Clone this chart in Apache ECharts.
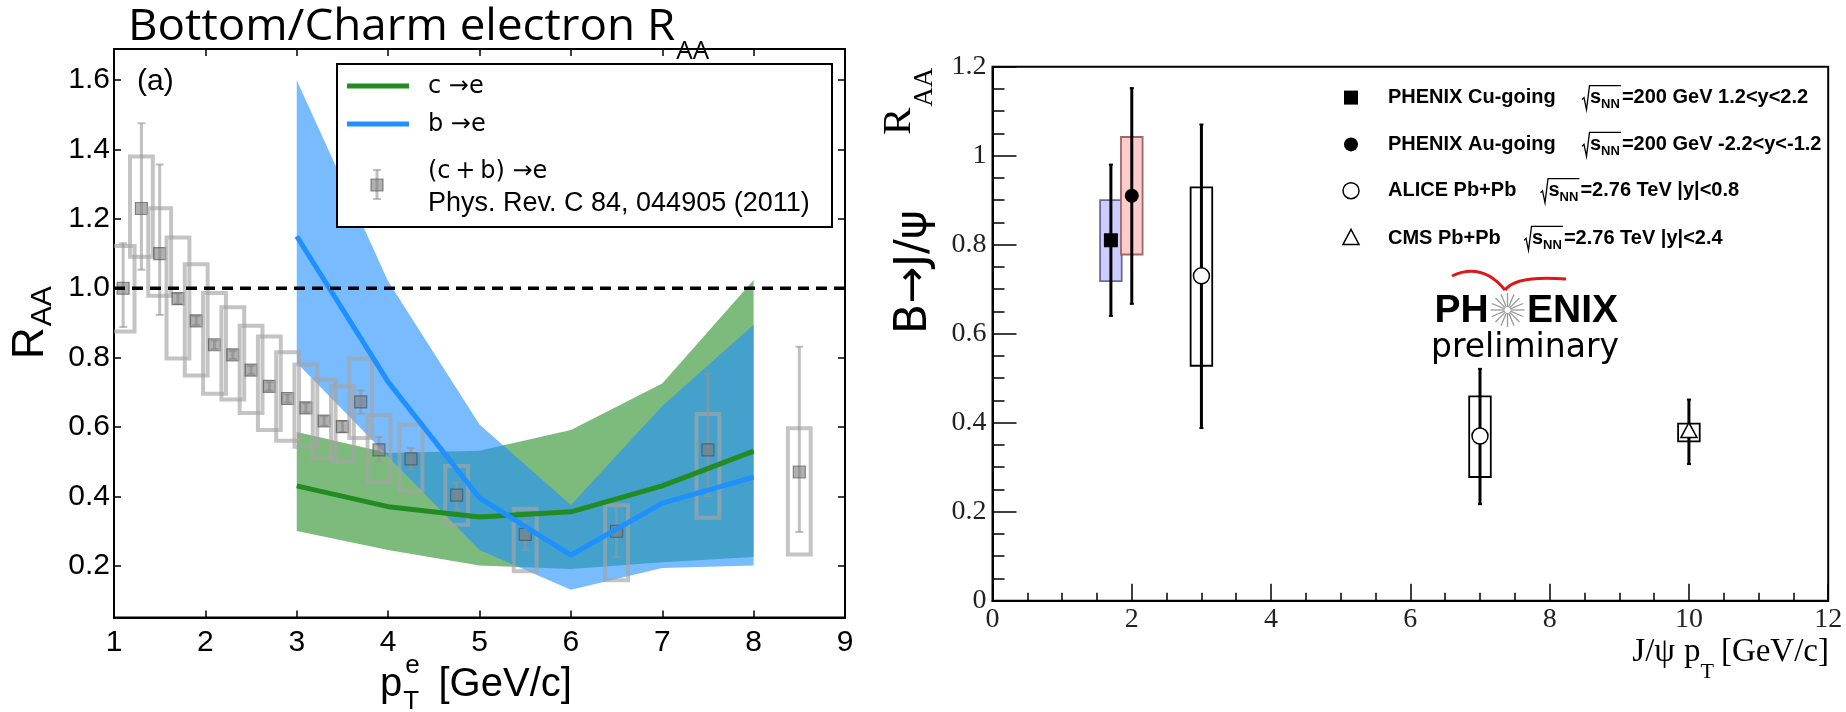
<!DOCTYPE html>
<html><head><meta charset="utf-8">
<script src="https://cdn.jsdelivr.net/npm/echarts@6/dist/echarts.min.js"></script>
<style>html,body{margin:0;padding:0;background:#fff}#c{width:1846px;height:712px}</style>
</head><body><div id="c"></div>
<script>
// ================= LEFT PANEL DATA =================
const leftXTicks = [1, 2, 3, 4, 5, 6, 7, 8, 9];
const leftYTicks = [0.2, 0.4, 0.6, 0.8, 1.0, 1.2, 1.4, 1.6];
const unityLevel = 1.0;
// model curves (pT grid)
const modelPt   = [3, 4, 5, 6, 7, 8];
const charmMid  = [0.43, 0.37, 0.34, 0.355, 0.43, 0.53];
const charmLo   = [0.30, 0.245, 0.20, 0.19, 0.21, 0.225];
const charmHi   = [0.585, 0.525, 0.531, 0.591, 0.725, 1.024];
const bottomMid = [1.15, 0.73, 0.395, 0.23, 0.38, 0.455];
const bottomLo  = [0.785, 0.515, 0.245, 0.13, 0.193, 0.20];
const bottomHi  = [1.60, 1.02, 0.607, 0.375, 0.66, 0.895];
// (c+b)->e data, Phys. Rev. C 84, 044905
const hfPt     = [1.1, 1.3, 1.5, 1.7, 1.9, 2.1, 2.3, 2.5, 2.7, 2.9, 3.1, 3.3, 3.5, 3.7, 3.9, 4.25, 4.75, 5.5, 6.5, 7.5, 8.5];
const hfVal    = [1.00, 1.23, 1.10, 0.97, 0.906, 0.837, 0.808, 0.764, 0.717, 0.682, 0.655, 0.617, 0.601, 0.672, 0.534, 0.508, 0.403, 0.290, 0.299, 0.534, 0.470];
const hfStatLo = [0.888, 1.053, 0.923, 0.955, 0.893, 0.825, 0.796, 0.752, 0.705, 0.670, 0.642, 0.603, 0.585, 0.638, 0.499, 0.477, 0.362, 0.245, 0.225, 0.400, 0.297];
const hfStatHi = [1.130, 1.476, 1.357, 0.985, 0.919, 0.849, 0.820, 0.776, 0.729, 0.694, 0.668, 0.631, 0.617, 0.705, 0.571, 0.539, 0.440, 0.328, 0.380, 0.754, 0.831];
const hfSysLo  = [0.875, 1.091, 0.978, 0.797, 0.748, 0.696, 0.679, 0.640, 0.591, 0.560, 0.543, 0.510, 0.499, 0.568, 0.441, 0.416, 0.318, 0.184, 0.158, 0.338, 0.232];
const hfSysHi  = [1.122, 1.380, 1.231, 1.146, 1.069, 0.986, 0.945, 0.892, 0.861, 0.815, 0.780, 0.736, 0.717, 0.797, 0.634, 0.607, 0.487, 0.364, 0.374, 0.637, 0.596];

// ================= RIGHT PANEL DATA =================
const rightXTicks = [0, 2, 4, 6, 8, 10, 12];
const rightYTicks = [0, 0.2, 0.4, 0.6, 0.8, 1, 1.2];
const jpsiNames  = ['PHENIX Cu-going', 'PHENIX Au-going', 'ALICE Pb+Pb', 'CMS Pb+Pb'];
const jpsiEnergy = ['=200 GeV 1.2<y<2.2', '=200 GeV -2.2<y<-1.2', '=2.76 TeV |y|<0.8', '=2.76 TeV |y|<2.4'];
const jpsiPt     = [1.7, 2.0, 3.0, 7.0, 10.0];
const jpsiVal    = [0.81, 0.91, 0.73, 0.37, 0.38];
const jpsiStatLo = [0.64, 0.667, 0.388, 0.217, 0.307];
const jpsiStatHi = [0.98, 1.152, 1.07, 0.521, 0.452];
const jpsiSysLo  = [0.718, 0.778, 0.528, 0.278, 0.358];
const jpsiSysHi  = [0.90, 1.042, 0.929, 0.459, 0.398];

// ---------- styles (not data) ----------
const jpsiMarker = ['square', 'circle', 'openCircle', 'openCircle', 'openTriangle'];
const jpsiBoxFill = ['rgba(204,204,255,1)', 'rgba(255,204,204,1)', 'none', 'none', 'none'];
const jpsiBoxStroke = ['#6a6a9a', '#9a6a6a', '#000', '#000', '#000'];

const ctx = document.createElement('canvas').getContext('2d');
function tw(text, font) { ctx.font = font; return ctx.measureText(text).width; }
const SANS = '"Liberation Sans", Arial, sans-serif';
const SERIF = '"Liberation Serif", "Times New Roman", serif';

function T(text, x, y, font, extra) {
  return Object.assign({ type: 'text', x: x, y: y, z: 100,
    style: { text: text, font: font, fill: '#000', align: 'left', verticalAlign: 'middle' } }, extra || {});
}

function bandSeries(xs, lo, hi, color, z) {
  return {
    type: 'custom', xAxisIndex: 0, yAxisIndex: 0, z: z, silent: true, clip: true,
    data: [[xs[0], lo[0]]],
    renderItem: function (params, api) {
      const pts = [];
      for (let i = 0; i < xs.length; i++) pts.push(api.coord([xs[i], hi[i]]));
      for (let i = xs.length - 1; i >= 0; i--) pts.push(api.coord([xs[i], lo[i]]));
      return { type: 'polygon', shape: { points: pts }, style: { fill: color } };
    }
  };
}

const hfData = hfPt.map((x, i) => [x, hfVal[i], hfStatLo[i], hfStatHi[i], hfSysLo[i], hfSysHi[i]]);
const jpsiData = jpsiPt.map((x, i) => [x, jpsiVal[i], jpsiStatLo[i], jpsiStatHi[i], jpsiSysLo[i], jpsiSysHi[i]]);

function hfRender(params, api) {
  const x = api.value(0), v = api.value(1);
  const hw = 0.125;
  const p0 = api.coord([x - hw, api.value(5)]), p1 = api.coord([x + hw, api.value(4)]);
  const c = api.coord([x, v]), a = api.coord([x, api.value(3)]), b = api.coord([x, api.value(2)]);
  const gc = 'rgba(150,150,150,0.6)';
  return { type: 'group', children: [
    { type: 'rect', shape: { x: p0[0], y: p0[1], width: p1[0] - p0[0], height: p1[1] - p0[1] },
      style: { fill: 'none', stroke: 'rgba(165,165,165,0.65)', lineWidth: 4 } },
    { type: 'line', shape: { x1: a[0], y1: a[1], x2: b[0], y2: b[1] }, style: { stroke: gc, lineWidth: 3 } },
    { type: 'line', shape: { x1: a[0] - 4, y1: a[1], x2: a[0] + 4, y2: a[1] }, style: { stroke: gc, lineWidth: 2 } },
    { type: 'line', shape: { x1: b[0] - 4, y1: b[1], x2: b[0] + 4, y2: b[1] }, style: { stroke: gc, lineWidth: 2 } },
    { type: 'rect', shape: { x: c[0] - 6, y: c[1] - 6, width: 12, height: 12 },
      style: { fill: 'rgba(125,125,125,0.6)', stroke: 'rgba(70,70,70,0.6)', lineWidth: 1.2 } }
  ] };
}

function markerShape(kind, cx, cy) {
  if (kind === 'square') return { type: 'rect', shape: { x: cx - 7, y: cy - 7, width: 14, height: 14 }, style: { fill: '#000' } };
  if (kind === 'circle') return { type: 'circle', shape: { cx: cx, cy: cy, r: 7 }, style: { fill: '#000' } };
  if (kind === 'openCircle') return { type: 'circle', shape: { cx: cx, cy: cy, r: 8 }, style: { fill: '#fff', stroke: '#000', lineWidth: 1.5 } };
  return { type: 'polygon', shape: { points: [[cx, cy - 9], [cx + 8, cy + 6], [cx - 8, cy + 6]] }, style: { fill: '#fff', stroke: '#000', lineWidth: 1.5 } };
}

function jpsiRender(params, api) {
  const i = params.dataIndex;
  const x = api.value(0), v = api.value(1);
  const hw = 0.155;
  const p0 = api.coord([x - hw, api.value(5)]), p1 = api.coord([x + hw, api.value(4)]);
  const c = api.coord([x, v]), a = api.coord([x, api.value(3)]), b = api.coord([x, api.value(2)]);
  return { type: 'group', children: [
    { type: 'rect', shape: { x: p0[0], y: p0[1], width: p1[0] - p0[0], height: p1[1] - p0[1] },
      style: { fill: jpsiBoxFill[i], stroke: jpsiBoxStroke[i], lineWidth: 1.8 } },
    { type: 'line', shape: { x1: a[0], y1: a[1], x2: b[0], y2: b[1] }, style: { stroke: '#000', lineWidth: 3 } },
    { type: 'line', shape: { x1: a[0] - 2, y1: a[1], x2: a[0] + 2, y2: a[1] }, style: { stroke: '#000', lineWidth: 2 } },
    { type: 'line', shape: { x1: b[0] - 2, y1: b[1], x2: b[0] + 2, y2: b[1] }, style: { stroke: '#000', lineWidth: 2 } },
    markerShape(jpsiMarker[i], c[0], c[1])
  ] };
}

// ---------------- graphics (titles, legends, labels) ----------------
const G = [];
// left title
const titleFont = '44px "Open Sans", sans-serif';
const titleMain = 'Bottom/Charm electron R';
const titleScale = 1.04;
G.push(T(titleMain, 128, 27, titleFont, { scaleX: titleScale }));
G.push(T('AA', 128 + tw(titleMain, titleFont) * titleScale + 1, 52, '26px "Open Sans", sans-serif'));
// (a)
G.push(T('(a)', 137, 82, '30px ' + SANS));
// left y label R_AA (rotated)
{
  const f1 = '44px ' + SANS, f2 = '30px ' + SANS;
  G.push({ type: 'group', x: 31, y: 359, rotation: Math.PI / 2, z: 100, children: [
    { type: 'text', x: 0, y: 0, style: { text: 'R', font: f1, fill: '#000', verticalAlign: 'middle' } },
    { type: 'text', x: tw('R', f1) + 1, y: 12, style: { text: 'AA', font: f2, fill: '#000', verticalAlign: 'middle' } }
  ] });
}
// left x label
{
  const f1 = '40px ' + SANS, f2 = '26px ' + SANS;
  const px = 380, cy = 685;
  const wp = tw('p', f1);
  G.push(T('p', px, cy, f1));
  G.push(T('e', px + wp + 3, cy - 19, f2));
  G.push(T('T', px + wp + 1, cy + 17, f2));
  G.push(T('[GeV/c]', 438.5, cy, f1));
}
// left legend
G.push({ type: 'rect', z: 99, shape: { x: 337, y: 64, width: 495, height: 163 }, style: { fill: '#fff', stroke: '#000', lineWidth: 2 } });
G.push({ type: 'line', z: 100, shape: { x1: 347, y1: 86, x2: 409, y2: 86 }, style: { stroke: '#228B22', lineWidth: 5 } });
G.push({ type: 'line', z: 100, shape: { x1: 347, y1: 124, x2: 409, y2: 124 }, style: { stroke: '#1E90FF', lineWidth: 5 } });
G.push(T('c \u2192e', 428, 87, '24px "DejaVu Sans", sans-serif'));
G.push(T('b \u2192e', 428, 125, '24px "DejaVu Sans", sans-serif'));
G.push({ type: 'line', z: 100, shape: { x1: 377, y1: 170, x2: 377, y2: 199 }, style: { stroke: 'rgba(150,150,150,0.6)', lineWidth: 3 } });
G.push({ type: 'line', z: 100, shape: { x1: 373, y1: 170, x2: 381, y2: 170 }, style: { stroke: 'rgba(150,150,150,0.6)', lineWidth: 2 } });
G.push({ type: 'line', z: 100, shape: { x1: 373, y1: 199, x2: 381, y2: 199 }, style: { stroke: 'rgba(150,150,150,0.6)', lineWidth: 2 } });
G.push({ type: 'rect', z: 101, shape: { x: 371, y: 179, width: 12, height: 12 }, style: { fill: 'rgba(125,125,125,0.6)', stroke: 'rgba(70,70,70,0.6)', lineWidth: 1.2 } });
G.push(T('(c\u2009+\u2009b) \u2192e', 428, 172, '24px "DejaVu Sans", sans-serif'));
G.push(T('Phys. Rev. C 84, 044905 (2011)', 428, 204, '27px ' + SANS));

// right y label
{
  const fb = '44px "DejaVu Sans", sans-serif';
  G.push({ type: 'group', x: 915, y: 334, rotation: Math.PI / 2, z: 100, children: [
    { type: 'text', x: 0, y: 0, style: { text: 'B\u2192J/\u03c8', font: fb, fill: '#000', verticalAlign: 'middle' } }
  ] });
  const fr = '41px ' + SERIF, fs = '27px ' + SERIF;
  G.push({ type: 'group', x: 899, y: 135, rotation: Math.PI / 2, z: 100, children: [
    { type: 'text', x: 0, y: 0, style: { text: 'R', font: fr, fill: '#000', verticalAlign: 'middle' } },
    { type: 'text', x: tw('R', fr) + 1, y: 26, style: { text: 'AA', font: fs, fill: '#000', verticalAlign: 'middle' } }
  ] });
}
// right x label (composed right-to-left, right edge at the frame)
{
  const f1 = '33px ' + SERIF, f2 = '22px ' + SERIF;
  const xEnd = 1829, cy = 652;
  const xG = xEnd - tw('[GeV/c]', f1);
  const xT = xG - 7 - tw('T', f2);
  const xP = xT - tw('p', f1);
  const xJ = xP - 9 - tw('J/\u03c8', f1);
  G.push(T('[GeV/c]', xG, cy, f1));
  G.push(T('T', xT, cy + 20, f2));
  G.push(T('p', xP, cy, f1));
  G.push(T('J/\u03c8', xJ, cy, f1));
}
// right legend
{
  const ys = [97.6, 144.4, 190.7, 238.4];
  const rx = [1582, 1582, 1540.5, 1524];
  const kinds = ['square', 'circle', 'openCircle', 'openTriangle'];
  const fB = 'bold 20px ' + SANS, fSub = 'bold 13px ' + SANS;
  ys.forEach((y, i) => {
    const m = markerShape(kinds[i], 1351, y); m.z = 100; G.push(m);
    G.push(T(jpsiNames[i], 1388, y, fB));
    const x0 = rx[i];
    const ws = tw('s', fB), wn = tw('NN', fSub);
    const xe = x0 + 8 + ws + wn + 1;
    G.push({ type: 'polyline', z: 100, shape: { points: [[x0, y + 2], [x0 + 2, y], [x0 + 4.5, y + 12], [x0 + 7.5, y - 12], [xe, y - 12]] },
      style: { stroke: '#000', lineWidth: 1.3, fill: 'none' } });
    G.push(T('s', x0 + 8, y, fB));
    G.push(T('NN', x0 + 8 + ws, y + 7, fSub));
    G.push(T(jpsiEnergy[i], xe + 1, y, fB));
  });
}
// PHENIX preliminary logo
{
  const fL = 'bold 39px ' + SANS;
  G.push(T('PH', 1434.5, 311, fL));
  G.push(T('ENIX', 1527, 311, fL));
  const cx = 1507.5, cy = 310;
  for (let k = 0; k < 16; k++) {
    const ang = k * Math.PI / 8;
    G.push({ type: 'line', z: 100, shape: { x1: cx + 3 * Math.cos(ang), y1: cy + 3 * Math.sin(ang), x2: cx + 17 * Math.cos(ang), y2: cy + 17 * Math.sin(ang) },
      style: { stroke: '#9a9a9a', lineWidth: 1.3 } });
  }
  G.push({ type: 'bezierCurve', z: 100, shape: { x1: 1452, y1: 276, cpx1: 1482, cpy1: 262, x2: 1505, y2: 290 }, style: { stroke: '#e01515', lineWidth: 3, fill: 'none' } });
  G.push({ type: 'bezierCurve', z: 100, shape: { x1: 1505, y1: 290, cpx1: 1516, cpy1: 275, x2: 1566, y2: 279 }, style: { stroke: '#e01515', lineWidth: 3, fill: 'none' } });
  G.push(T('preliminary', 1431, 348, '33px "DejaVu Sans", sans-serif'));
}

const leftTickStyle = { show: true, inside: true, length: 7, lineStyle: { color: '#000', width: 1.5 } };
const option = {
  animation: false,
  backgroundColor: '#fff',
  grid: [
    { left: 114, top: 49, width: 731, height: 568.6, show: true, borderColor: '#000', borderWidth: 2 },
    { left: 992.5, top: 66.7, width: 835.7, height: 534, show: true, borderColor: '#000', borderWidth: 2 }
  ],
  xAxis: [
    { gridIndex: 0, type: 'value', min: leftXTicks[0], max: leftXTicks[leftXTicks.length - 1], interval: 1,
      axisLine: { lineStyle: { color: '#000', width: 2 } }, axisTick: leftTickStyle, splitLine: { show: false },
      axisLabel: { color: '#000', fontFamily: 'Liberation Sans', fontSize: 30, margin: 10 } },
    { gridIndex: 0, type: 'value', position: 'top', min: leftXTicks[0], max: leftXTicks[leftXTicks.length - 1], interval: 1,
      axisLine: { lineStyle: { color: '#000', width: 2 } }, axisTick: leftTickStyle, splitLine: { show: false }, axisLabel: { show: false } },
    { gridIndex: 1, type: 'value', min: rightXTicks[0], max: rightXTicks[rightXTicks.length - 1], interval: 2,
      axisLine: { lineStyle: { color: '#000', width: 2 } },
      axisTick: { show: true, inside: true, length: 17, lineStyle: { color: '#000', width: 1.5 } },
      minorTick: { show: true, splitNumber: 4, length: 8, lineStyle: { color: '#000', width: 1.5 } },
      splitLine: { show: false }, minorSplitLine: { show: false },
      axisLabel: { color: '#222', fontFamily: 'Liberation Serif', fontSize: 28, margin: 5 } }
  ],
  yAxis: [
    { gridIndex: 0, type: 'value', min: 0.05, max: 1.69,
      axisLine: { lineStyle: { color: '#000', width: 2 } },
      axisTick: Object.assign({ customValues: leftYTicks }, leftTickStyle), splitLine: { show: false },
      axisLabel: { customValues: leftYTicks, color: '#000', fontFamily: 'Liberation Sans', fontSize: 30, margin: 4,
        formatter: v => v.toFixed(1) } },
    { gridIndex: 0, type: 'value', position: 'right', min: 0.05, max: 1.69,
      axisLine: { lineStyle: { color: '#000', width: 2 } },
      axisTick: Object.assign({ customValues: leftYTicks }, leftTickStyle), splitLine: { show: false }, axisLabel: { show: false } },
    { gridIndex: 1, type: 'value', min: rightYTicks[0], max: rightYTicks[rightYTicks.length - 1], interval: 0.2,
      axisLine: { lineStyle: { color: '#000', width: 2 } },
      axisTick: { show: true, inside: true, length: 24, lineStyle: { color: '#000', width: 1.5 } },
      minorTick: { show: true, splitNumber: 4, length: 12, lineStyle: { color: '#000', width: 1.5 } },
      splitLine: { show: false }, minorSplitLine: { show: false },
      axisLabel: { color: '#222', fontFamily: 'Liberation Serif', fontSize: 28, margin: 6,
        formatter: v => (Math.abs(v) < 1e-9 ? '0' : Math.abs(v - 1) < 1e-9 ? '1' : v.toFixed(1)) } }
  ],
  series: [
    bandSeries(modelPt, charmLo, charmHi, 'rgba(34,139,34,0.59)', 1),
    bandSeries(modelPt, bottomLo, bottomHi, 'rgba(30,144,255,0.6)', 2),
    { type: 'custom', xAxisIndex: 0, yAxisIndex: 0, z: 3, clip: true, silent: true,
      encode: { x: 0, y: 1 }, data: hfData, renderItem: hfRender },
    { type: 'line', xAxisIndex: 0, yAxisIndex: 0, z: 4, symbol: 'none', silent: true,
      data: modelPt.map((x, i) => [x, charmMid[i]]), lineStyle: { color: '#228B22', width: 5 } },
    { type: 'line', xAxisIndex: 0, yAxisIndex: 0, z: 4, symbol: 'none', silent: true,
      data: modelPt.map((x, i) => [x, bottomMid[i]]), lineStyle: { color: '#1E90FF', width: 5 } },
    { type: 'line', xAxisIndex: 0, yAxisIndex: 0, z: 5, symbol: 'none', silent: true,
      data: [[leftXTicks[0], unityLevel], [leftXTicks[leftXTicks.length - 1], unityLevel]],
      lineStyle: { color: '#000', width: 3.5, type: [11, 7] } },
    { type: 'custom', xAxisIndex: 2, yAxisIndex: 2, z: 3, clip: false, silent: true,
      encode: { x: 0, y: 1 }, data: jpsiData, renderItem: jpsiRender }
  ],
  graphic: G
};
const chart = echarts.init(document.getElementById('c'));
chart.setOption(option);
</script>
</body></html>
